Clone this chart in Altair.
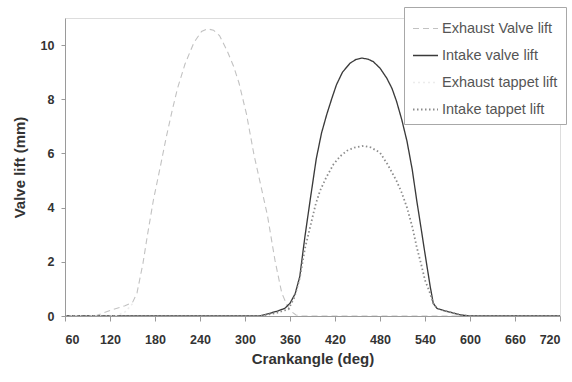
import altair as alt
import pandas as pd

# Crank angle (deg) and lift (mm) for each curve
exhaust_valve_deg = [60, 100, 110, 125, 140, 150, 156, 164, 170, 178, 187, 195, 203, 210, 220,
                     232, 242, 250, 258, 266, 276, 285, 292, 302, 312, 320, 330, 340, 349, 356,
                     362, 368, 375, 720]
exhaust_valve_mm = [0, 0, 0.1, 0.25, 0.38, 0.5, 0.85, 1.95, 3.0, 4.3, 5.5, 6.6, 7.6, 8.4, 9.3,
                    10.1, 10.5, 10.6, 10.55, 10.35, 9.8, 9.2, 8.6, 7.45, 5.95, 4.95, 3.7, 2.05,
                    0.85, 0.4, 0.16, 0.04, 0, 0]

intake_valve_deg = [60, 320, 333, 343, 353, 360, 367, 373, 380, 387, 395, 402, 409, 416, 422,
                    430, 440, 448, 456, 464, 471, 480, 489, 496, 502, 509, 516, 523, 529, 535,
                    540, 544, 547, 551, 556, 565, 575, 587, 600, 720]
intake_valve_mm = [0, 0, 0.1, 0.18, 0.28, 0.47, 0.83, 1.45, 2.95, 4.3, 5.8, 6.75, 7.44, 8.05, 8.54,
                   9.0, 9.33, 9.47, 9.52, 9.48, 9.39, 9.15, 8.78, 8.4, 7.93, 7.25, 6.45, 5.4, 4.26,
                   3.2, 2.3, 1.6, 1.08, 0.47, 0.28, 0.2, 0.13, 0.04, 0, 0]

exhaust_tappet_deg = [60, 128, 140, 150]
exhaust_tappet_mm = [0, 0, 0.15, 0.45]

intake_tappet_deg = [60, 320, 340, 358, 366, 373, 380, 387, 394, 400, 408, 418, 427, 436, 446,
                     458, 468, 480, 490, 502, 509, 516, 523, 529, 535, 540, 546, 551, 556, 565,
                     575, 587, 600, 720]
intake_tappet_mm = [0, 0, 0.1, 0.25, 0.7, 1.4, 2.5, 3.3, 4.1, 4.62, 5.1, 5.6, 5.9, 6.1, 6.22,
                    6.28, 6.22, 6.03, 5.6, 4.99, 4.55, 4.0, 3.3, 2.54, 1.9, 1.32, 0.9, 0.47, 0.28,
                    0.2, 0.13, 0.04, 0, 0]

series_names = ["Exhaust Valve lift", "Intake valve lift", "Exhaust tappet lift", "Intake tappet lift"]
series_colors = ["#c2c2c2", "#3a3a3a", "#ececec", "#8c8c8c"]
series_dashes = [[6, 4], [1, 0], [2, 3], [1.5, 2.5]]
series_widths = [1.1, 1.8, 1.0, 1.3]

rows = []
for name, degs, vals in zip(series_names,
                            [exhaust_valve_deg, intake_valve_deg, exhaust_tappet_deg, intake_tappet_deg],
                            [exhaust_valve_mm, intake_valve_mm, exhaust_tappet_mm, intake_tappet_mm]):
    for i, (d, v) in enumerate(zip(degs, vals)):
        rows.append({"series": name, "deg": d, "lift": v, "order": i})
df = pd.DataFrame(rows)

x_ticks = list(range(60, 721, 60))
y_ticks = [0, 2, 4, 6, 8, 10]

font = "Liberation Sans"

chart = alt.Chart(df).mark_line(clip=True).encode(
    x=alt.X("deg:Q",
            scale=alt.Scale(domain=[60, 720], nice=False, zero=False),
            axis=alt.Axis(title="Crankangle (deg)", values=x_ticks, grid=False,
                          domainColor="#9a9a9a", tickColor="#9a9a9a", tickSize=5,
                          labelPadding=12, labelFontSize=12.5, labelFontWeight="bold",
                          labelColor="#333",
                          labelFont=font, titleFont=font, titleFontSize=15,
                          titleFontWeight="bold", titleColor="#333", titlePadding=6)),
    y=alt.Y("lift:Q",
            scale=alt.Scale(domain=[0, 11], nice=False),
            axis=alt.Axis(title="Valve lift (mm)", values=y_ticks, grid=False,
                          domainColor="#9a9a9a", tickColor="#9a9a9a", tickSize=4,
                          labelPadding=7, labelFontSize=12.5, labelFontWeight="bold",
                          labelColor="#333",
                          labelFont=font, titleFont=font, titleFontSize=15,
                          titleFontWeight="bold", titleColor="#333", titlePadding=13)),
    color=alt.Color("series:N",
                    scale=alt.Scale(domain=series_names, range=series_colors),
                    legend=alt.Legend(title=None, orient="none", legendX=339, legendY=-11,
                                      symbolType="stroke", symbolSize=625, symbolStrokeWidth=1.4,
                                      labelFont=font, labelFontSize=14.5, labelColor="#555",
                                      rowPadding=7, padding=8, labelOffset=3,
                                      strokeColor="#a8a8a8", fillColor="white")),
    strokeDash=alt.StrokeDash("series:N",
                              scale=alt.Scale(domain=series_names, range=series_dashes),
                              legend=None),
    strokeWidth=alt.StrokeWidth("series:N",
                                scale=alt.Scale(domain=series_names, range=series_widths),
                                legend=None),
    order="order:Q",
).properties(
    width=495,
    height=298,
    padding={"left": 65, "top": 18, "right": 12, "bottom": 66},
    autosize=alt.AutoSizeParams(type="none"),
).configure_view(stroke=None).configure(background="white")

chart.save("out.html", embed_options={"renderer": "svg", "actions": False})
